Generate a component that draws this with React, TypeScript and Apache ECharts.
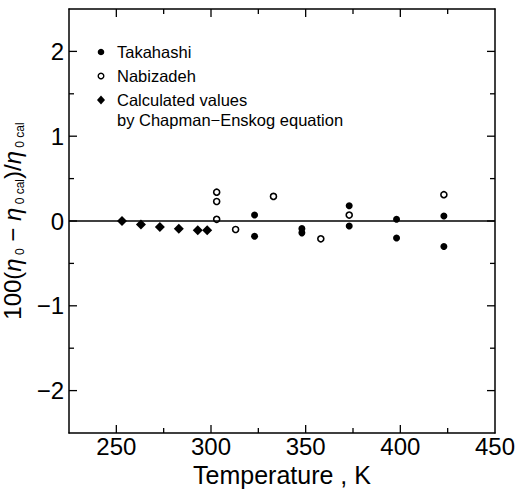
import React, { useEffect, useRef } from "react";
import * as echarts from "echarts";

const takahashiT = [323, 323, 348, 348, 373, 373, 398, 398, 423, 423];
const takahashiV = [0.07, -0.18, -0.09, -0.14, 0.18, -0.06, 0.02, -0.2, 0.06, -0.3];

const nabizadehT = [303, 303, 303, 313, 333, 358, 373, 423];
const nabizadehV = [0.34, 0.23, 0.02, -0.1, 0.29, -0.21, 0.07, 0.31];

const calcT = [253, 263, 273, 283, 293, 298];
const calcV = [0, -0.04, -0.07, -0.09, -0.11, -0.11];

const xLabelValues = [250, 300, 350, 400, 450];
const yLabelValues = [-2, -1, 0, 1, 2];
const xMajorTicks = [250, 300, 350, 400];
const xMinorTicks = [275, 325, 375, 425];
const yMajorTicks = [-2, -1, 0, 1, 2];
const yMinorTicks = [-1.5, -0.5, 0.5, 1.5];

const FONT = "'Liberation Sans', Arial, Helvetica, sans-serif";
const BLACK = "#000";

const pairs = (xs: number[], ys: number[]) => xs.map((x, i) => [x, ys[i]]);

const mkLine = () => ({ show: true, onZero: false, lineStyle: { color: BLACK, width: 1.5 } });

export default function App() {
  const ref = useRef<HTMLDivElement>(null);

  useEffect(() => {
    if (!ref.current) return;
    const chart = echarts.init(ref.current, null, { renderer: "svg" });

    const legendGraphic: any[] = [
      { type: "circle", shape: { cx: 101, cy: 52, r: 3.3 }, style: { fill: BLACK } },
      {
        type: "text",
        x: 117,
        y: 52,
        style: { text: "Takahashi", fontSize: 16.5, fontFamily: FONT, fill: BLACK, verticalAlign: "middle" },
      },
      { type: "circle", shape: { cx: 101, cy: 76, r: 2.8 }, style: { fill: "#fff", stroke: BLACK, lineWidth: 1.4 } },
      {
        type: "text",
        x: 117,
        y: 76,
        style: { text: "Nabizadeh", fontSize: 16.5, fontFamily: FONT, fill: BLACK, verticalAlign: "middle" },
      },
      {
        type: "polygon",
        shape: { points: [[101, 95.5], [105, 100], [101, 104.5], [97, 100]] },
        style: { fill: BLACK },
      },
      {
        type: "text",
        x: 117,
        y: 100,
        style: { text: "Calculated values", fontSize: 16.5, fontFamily: FONT, fill: BLACK, verticalAlign: "middle" },
      },
      {
        type: "text",
        x: 117,
        y: 120,
        style: {
          text: "by Chapman\u2212Enskog equation",
          fontSize: 16.5,
          fontFamily: FONT,
          fill: BLACK,
          verticalAlign: "middle",
        },
      },
    ];

    const option: any = {
      animation: false,
      backgroundColor: "#fff",
      grid: { left: 69, right: 22, top: 9, bottom: 66, containLabel: false, outerBoundsMode: "none" },
      xAxis: [
        {
          type: "value",
          min: 225,
          max: 450,
          interval: 25,
          splitLine: { show: false },
          position: "bottom",
          axisLine: mkLine(),
          axisTick: { show: false },
          axisLabel: {
            show: true,
            fontSize: 24,
            color: BLACK,
            fontFamily: FONT,
            margin: 1,
            formatter: (v: number) => (xLabelValues.includes(v) ? String(v) : ""),
          },
          name: "Temperature , K",
          nameLocation: "middle",
          nameGap: 22,
          nameTextStyle: { fontSize: 25, color: BLACK, fontFamily: FONT },
        },
        {
          type: "value",
          min: 225,
          max: 450,
          interval: 25,
          splitLine: { show: false },
          position: "top",
          axisLine: mkLine(),
          axisTick: { show: false },
          axisLabel: { show: false },
        },
      ],
      yAxis: [
        {
          type: "value",
          min: -2.5,
          max: 2.5,
          interval: 0.5,
          splitLine: { show: false },
          position: "left",
          axisLine: mkLine(),
          axisTick: { show: false },
          axisLabel: {
            show: true,
            fontSize: 24,
            color: BLACK,
            fontFamily: FONT,
            margin: 5,
            formatter: (v: number) =>
              yLabelValues.includes(v) ? (v < 0 ? "\u2212" + Math.abs(v) : String(v)) : "",
          },
          name:
            "{n|100(}{i|\u03b7}{s| 0}{n| \u2212 }{i|\u03b7}{s| 0 cal}{n|)/}{i|\u03b7}{s| 0 cal}",
          nameLocation: "middle",
          nameRotate: 90,
          nameGap: 36,
          nameTextStyle: {
            color: BLACK,
            fontFamily: FONT,
            fontSize: 24,
            rich: {
              n: { fontSize: 24, color: BLACK, fontFamily: FONT, lineHeight: 26 },
              i: { fontSize: 24, color: BLACK, fontFamily: FONT, fontStyle: "italic", lineHeight: 26 },
              s: { fontSize: 12, color: BLACK, fontFamily: FONT, lineHeight: 26, verticalAlign: "bottom" },
            },
          },
        },
        {
          type: "value",
          min: -2.5,
          max: 2.5,
          interval: 0.5,
          splitLine: { show: false },
          position: "right",
          axisLine: mkLine(),
          axisTick: { show: false },
          axisLabel: { show: false },
        },
      ],
      series: [
        {
          name: "Calculated values by Chapman\u2212Enskog equation",
          type: "scatter",
          xAxisIndex: 0,
          yAxisIndex: 0,
          symbol: "diamond",
          symbolSize: 10,
          itemStyle: { color: BLACK, opacity: 1 },
          data: pairs(calcT, calcV),
          z: 3,
          markLine: {
            silent: true,
            symbol: ["none", "none"],
            label: { show: false },
            lineStyle: { color: BLACK, width: 1.5, type: "solid" },
            data: [{ yAxis: 0 }],
          },
        },
        {
          name: "Takahashi",
          type: "scatter",
          xAxisIndex: 0,
          yAxisIndex: 0,
          symbol: "circle",
          symbolSize: 7,
          itemStyle: { color: BLACK, opacity: 1 },
          data: pairs(takahashiT, takahashiV),
          z: 3,
        },
        {
          name: "Nabizadeh",
          type: "scatter",
          xAxisIndex: 0,
          yAxisIndex: 0,
          symbol: "circle",
          symbolSize: 6,
          itemStyle: { color: "#fff", borderColor: BLACK, borderWidth: 1.6, opacity: 1 },
          data: pairs(nabizadehT, nabizadehV),
          z: 4,
        },
      ],
      graphic: legendGraphic,
    };

    chart.setOption(option);

    // Inward ticks on all four sides, positioned through the chart's own scales.
    const px = (v: number) => chart.convertToPixel({ xAxisIndex: 0 } as any, v) as unknown as number;
    const py = (v: number) => chart.convertToPixel({ yAxisIndex: 0 } as any, v) as unknown as number;
    const yB = py(-2.5);
    const yT = py(2.5);
    const xL = px(225);
    const xR = px(450);
    const tickStyle = { stroke: BLACK, lineWidth: 1.3 };
    const ticks: any[] = [];
    const addX = (vals: number[], len: number) =>
      vals.forEach((v) => {
        const x = px(v);
        ticks.push({ type: "line", silent: true, shape: { x1: x, y1: yB, x2: x, y2: yB - len }, style: tickStyle });
        ticks.push({ type: "line", silent: true, shape: { x1: x, y1: yT, x2: x, y2: yT + len }, style: tickStyle });
      });
    const addY = (vals: number[], len: number) =>
      vals.forEach((v) => {
        const y = py(v);
        ticks.push({ type: "line", silent: true, shape: { x1: xL, y1: y, x2: xL + len, y2: y }, style: tickStyle });
        ticks.push({ type: "line", silent: true, shape: { x1: xR, y1: y, x2: xR - len, y2: y }, style: tickStyle });
      });
    if (isFinite(yB) && isFinite(yT) && isFinite(xL) && isFinite(xR)) {
      addX(xMajorTicks, 8);
      addX(xMinorTicks, 5);
      addY(yMajorTicks, 8);
      addY(yMinorTicks, 5);
      chart.setOption({ graphic: [...legendGraphic, ...ticks] });
    }

    return () => chart.dispose();
  }, []);

  return (
    <div
      ref={ref}
      style={{ position: "absolute", left: 0, top: 0, width: 517, height: 499, background: "#fff" }}
    />
  );
}
